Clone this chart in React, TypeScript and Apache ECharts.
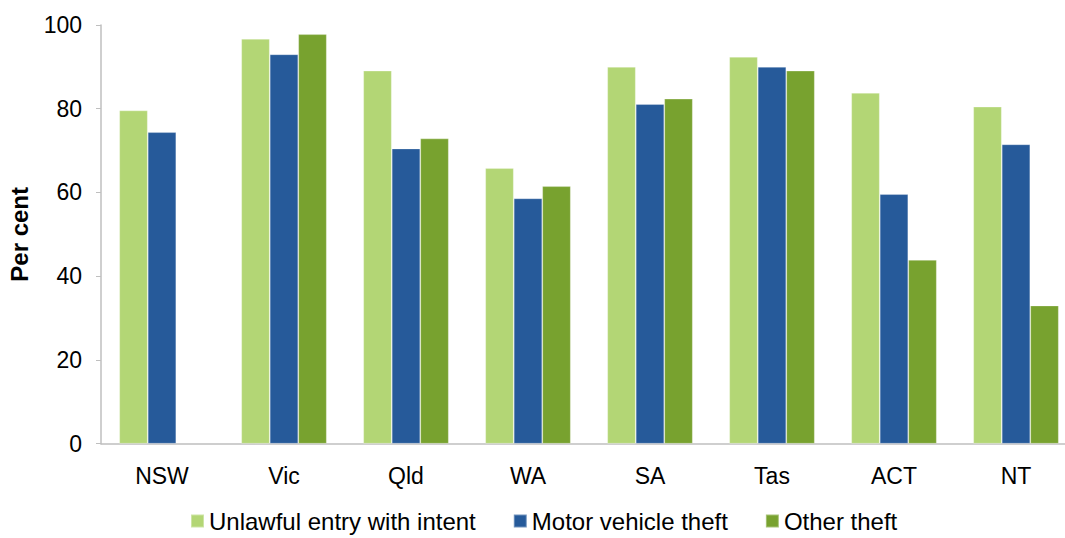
import React, { useEffect, useRef } from "react";
import * as echarts from "echarts";

const categories = ["NSW", "Vic", "Qld", "WA", "SA", "Tas", "ACT", "NT"];
const unlawfulEntry = [79.6, 96.7, 89.1, 65.8, 90.0, 92.4, 83.8, 80.5];
const motorVehicle = [74.4, 93.0, 70.5, 58.6, 81.1, 90.0, 59.6, 71.5];
const otherTheft = [null, 97.8, 72.9, 61.5, 82.4, 89.1, 43.9, 33.0];
const seriesNames = ["Unlawful entry with intent", "Motor vehicle theft", "Other theft"];
const colors = ["#B3D675", "#265A9A", "#78A22F"];

export default function App() {
  const ref = useRef<HTMLDivElement>(null);
  useEffect(() => {
    if (!ref.current) return;
    const chart = echarts.init(ref.current, undefined, { renderer: "svg" });
    const font = "'Liberation Sans', Arial, sans-serif";
    const mk = (name: string, data: (number | null)[], color: string) => ({
      name,
      type: "bar",
      data,
      barWidth: 28.5,
      barGap: "0%",
      itemStyle: { color, borderColor: "rgba(255,255,255,0.35)", borderWidth: 0.8 },
    });
    chart.setOption({
      animation: false,
      textStyle: { fontFamily: font },
      color: colors,
      grid: {
        left: 101,
        top: 25,
        width: 976,
        bottom: 94.3,
        containLabel: false,
        outerBoundsMode: "none",
      },
      legend: {
        bottom: 0,
        left: 185,
        itemWidth: 13,
        itemHeight: 13,
        itemGap: 37,
        icon: "rect",
        textStyle: { fontSize: 24, color: "#000", fontFamily: font, padding: [0, 0, 0, 0] },
        data: seriesNames,
      },
      xAxis: {
        type: "category",
        data: categories,
        axisLine: { lineStyle: { color: "#BFBFBF", width: 1.5 } },
        axisTick: { show: false },
        axisLabel: { color: "#000", fontSize: 23, margin: 21, fontFamily: font },
      },
      yAxis: {
        type: "value",
        min: 0,
        max: 100,
        interval: 20,
        name: "Per cent",
        nameLocation: "middle",
        nameGap: 70,
        nameTextStyle: { fontSize: 24, fontWeight: "bold", color: "#000", fontFamily: font },
        axisLine: { show: true, lineStyle: { color: "#BFBFBF", width: 1.5 } },
        axisTick: { show: true, length: 5, lineStyle: { color: "#BFBFBF" } },
        axisLabel: { color: "#000", fontSize: 23, margin: 19, fontFamily: font },
        splitLine: { show: false },
      },
      series: [
        mk(seriesNames[0], unlawfulEntry, colors[0]),
        mk(seriesNames[1], motorVehicle, colors[1]),
        mk(seriesNames[2], otherTheft, colors[2]),
      ],
    });
    return () => chart.dispose();
  }, []);
  return (
    <div
      ref={ref}
      style={{ position: "fixed", left: 0, top: 0, width: 1065, height: 538, background: "#fff" }}
    />
  );
}
